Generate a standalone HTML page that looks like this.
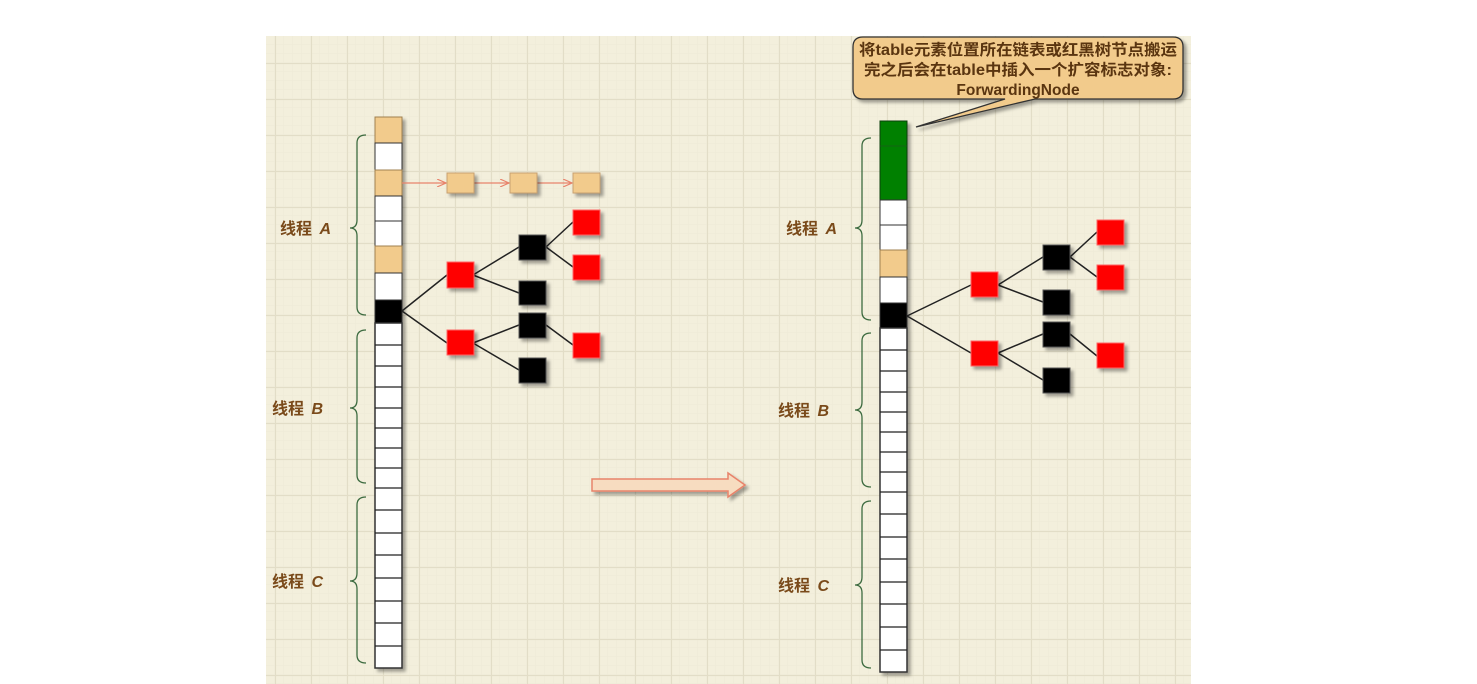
<!DOCTYPE html>
<html><head><meta charset="utf-8"><style>
html,body{margin:0;padding:0;background:#fff;width:1477px;height:684px;overflow:hidden}
svg{display:block}
</style></head><body>
<svg width="1477" height="684" xmlns="http://www.w3.org/2000/svg" font-family="'Liberation Sans','Noto Sans CJK SC',sans-serif">
<defs>
<pattern id="minor" x="266" y="36" width="9" height="9" patternUnits="userSpaceOnUse">
<path d="M9 0V9M0 9H9" stroke="#eeead6" stroke-width="1" fill="none"/></pattern>
<pattern id="major" x="275" y="63" width="36" height="36" patternUnits="userSpaceOnUse">
<path d="M0.5 0V36M0 0.5H36" stroke="#e2ddc7" stroke-width="1.2" fill="none"/></pattern>
<filter id="sh" x="-30%" y="-30%" width="160%" height="160%"><feDropShadow dx="3" dy="3" stdDeviation="1.5" flood-color="#000" flood-opacity="0.35"/></filter>
<marker id="ah" markerWidth="10" markerHeight="8" refX="9" refY="4" orient="auto" markerUnits="userSpaceOnUse"><path d="M0 0L9 4L0 8" fill="none" stroke="#e8836b" stroke-width="1.2"/></marker>
</defs>
<rect x="266" y="36" width="925" height="648" fill="#f3efdc"/>
<rect x="266" y="36" width="925" height="648" fill="url(#minor)"/>
<rect x="266" y="36" width="925" height="648" fill="url(#major)"/>

<g filter="url(#sh)" stroke="#333" stroke-width="1">
<rect x="375" y="117" width="27" height="26" fill="#f2cb8c" stroke="#a08050"/>
<rect x="375" y="143" width="27" height="27" fill="#fff"/>
<rect x="375" y="170" width="27" height="26" fill="#f2cb8c" stroke="#a08050"/>
<rect x="375" y="196" width="27" height="25" fill="#fff"/>
<rect x="375" y="221" width="27" height="25" fill="#fff"/>
<rect x="375" y="246" width="27" height="27" fill="#f2cb8c" stroke="#a08050"/>
<rect x="375" y="273" width="27" height="27" fill="#fff"/>
<rect x="375" y="300" width="27" height="23" fill="#000"/>
<rect x="375" y="323" width="27" height="345" fill="#fff" stroke-width="1.5"/>
</g>
<g stroke="#222" stroke-width="1.2">
<path d="M375 345H402M375 366H402M375 387H402M375 408H402M375 428H402M375 448H402M375 468H402M375 488H402M375 510H402M375 533H402M375 555H402M375 578H402M375 601H402M375 623H402M375 646H402"/>
</g>

<g stroke="#e8836b" stroke-width="1.2" fill="none">
<path d="M402 183H446" marker-end="url(#ah)"/>
<path d="M474 183H509" marker-end="url(#ah)"/>
<path d="M537 183H572" marker-end="url(#ah)"/>
</g>
<g filter="url(#sh)" fill="#f2cb8c" stroke="#c8a070">
<rect x="447" y="173" width="27" height="20"/><rect x="510" y="173" width="27" height="20"/><rect x="573" y="173" width="27" height="20"/>
</g>

<g stroke="#222" stroke-width="1.5" fill="none">
<path d="M402 311L447 275M402 311L447 343M473 275L519 247M473 275L519 293M473 343L519 325M473 343L519 370M546 247L573 222M546 247L573 267M546 325L573 345"/>
</g>
<g filter="url(#sh)">
<rect x="447" y="262" width="27" height="26" fill="#f00" stroke="#f66"/>
<rect x="447" y="330" width="27" height="25" fill="#f00" stroke="#f66"/>
<rect x="519" y="235" width="27" height="25" fill="#000" stroke="#555"/>
<rect x="519" y="281" width="27" height="24" fill="#000" stroke="#555"/>
<rect x="519" y="313" width="27" height="25" fill="#000" stroke="#555"/>
<rect x="519" y="358" width="27" height="25" fill="#000" stroke="#555"/>
<rect x="573" y="210" width="27" height="25" fill="#f00" stroke="#f66"/>
<rect x="573" y="255" width="27" height="25" fill="#f00" stroke="#f66"/>
<rect x="573" y="333" width="27" height="25" fill="#f00" stroke="#f66"/>
</g>

<g stroke="#3d6b40" stroke-width="1.3" fill="none">
<path d="M366 135Q357 135 357 143V220Q357 228 350 228Q357 228 357 236V307Q357 315 366 315"/>
<path d="M366 330Q357 330 357 338V400Q357 408 350 408Q357 408 357 416V475Q357 483 366 483"/>
<path d="M366 497Q357 497 357 505V573Q357 581 350 581Q357 581 357 589V655Q357 663 366 663"/>
<path d="M871 138Q862 138 862 146V220Q862 228 855 228Q862 228 862 236V312Q862 320 871 320"/>
<path d="M871 333Q862 333 862 341V402Q862 410 855 410Q862 410 862 418V479Q862 487 871 487"/>
<path d="M871 501Q862 501 862 509V577Q862 585 855 585Q862 585 862 593V660Q862 668 871 668"/>
</g>

<g fill="#7a4a1a" font-weight="bold" font-size="16">
<text x="280" y="234">线程 <tspan font-style="italic" dx="3">A</tspan></text>
<text x="272" y="414">线程 <tspan font-style="italic" dx="3">B</tspan></text>
<text x="272" y="587">线程 <tspan font-style="italic" dx="3">C</tspan></text>
<text x="786" y="234">线程 <tspan font-style="italic" dx="3">A</tspan></text>
<text x="778" y="416">线程 <tspan font-style="italic" dx="3">B</tspan></text>
<text x="778" y="591">线程 <tspan font-style="italic" dx="3">C</tspan></text>
</g>

<path d="M592 479H728V473L745 485L728 497V491H592Z" fill="#f7dcc0" stroke="#e8836b" stroke-width="1.5" filter="url(#sh)"/>

<g filter="url(#sh)" stroke="#333" stroke-width="1">
<rect x="880" y="121" width="27" height="79" fill="#008000" stroke="#104010"/>
<rect x="880" y="200" width="27" height="25" fill="#fff"/>
<rect x="880" y="225" width="27" height="25" fill="#fff"/>
<rect x="880" y="250" width="27" height="27" fill="#f2cb8c" stroke="#a08050"/>
<rect x="880" y="277" width="27" height="26" fill="#fff"/>
<rect x="880" y="303" width="27" height="25" fill="#000"/>
<rect x="880" y="328" width="27" height="344" fill="#fff" stroke-width="1.5"/>
</g>
<path d="M880 146H907" stroke="#1a5a1a" stroke-width="0.8"/>
<g stroke="#222" stroke-width="1.2">
<path d="M880 350H907M880 371H907M880 392H907M880 412H907M880 432H907M880 452H907M880 472H907M880 492H907M880 514H907M880 537H907M880 559H907M880 582H907M880 604H907M880 627H907M880 650H907" />
</g>
<g stroke="#222" stroke-width="1.5" fill="none">
<path d="M907 316L971 285M907 316L971 353M998 285L1043 257M998 285L1043 302M998 353L1043 334M998 353L1043 380M1070 257L1097 232M1070 257L1097 277M1070 334L1097 356"/>
</g>
<g filter="url(#sh)">
<rect x="971" y="272" width="27" height="25" fill="#f00" stroke="#f66"/>
<rect x="971" y="341" width="27" height="25" fill="#f00" stroke="#f66"/>
<rect x="1043" y="245" width="27" height="25" fill="#000" stroke="#555"/>
<rect x="1043" y="290" width="27" height="25" fill="#000" stroke="#555"/>
<rect x="1043" y="322" width="27" height="25" fill="#000" stroke="#555"/>
<rect x="1043" y="368" width="27" height="25" fill="#000" stroke="#555"/>
<rect x="1097" y="220" width="27" height="25" fill="#f00" stroke="#f66"/>
<rect x="1097" y="265" width="27" height="25" fill="#f00" stroke="#f66"/>
<rect x="1097" y="343" width="27" height="25" fill="#f00" stroke="#f66"/>
</g>

<g filter="url(#sh)">
<path d="M863 37H1173Q1183 37 1183 47V89Q1183 99 1173 99H1035L916 127L1005 99H863Q853 99 853 89V47Q853 37 863 37Z" fill="#f2cb8c" stroke="#333" stroke-width="1.3"/>
</g>
<g fill="#5a3510" font-weight="bold" font-size="15.5" text-anchor="middle">
<text x="1018" y="55" textLength="318" lengthAdjust="spacingAndGlyphs">将table元素位置所在链表或红黑树节点搬运</text>
<text x="1018" y="75" textLength="308" lengthAdjust="spacingAndGlyphs">完之后会在table中插入一个扩容标志对象:</text>
<text x="1018" y="95">ForwardingNode</text>
</g>
</svg>
</body></html>
